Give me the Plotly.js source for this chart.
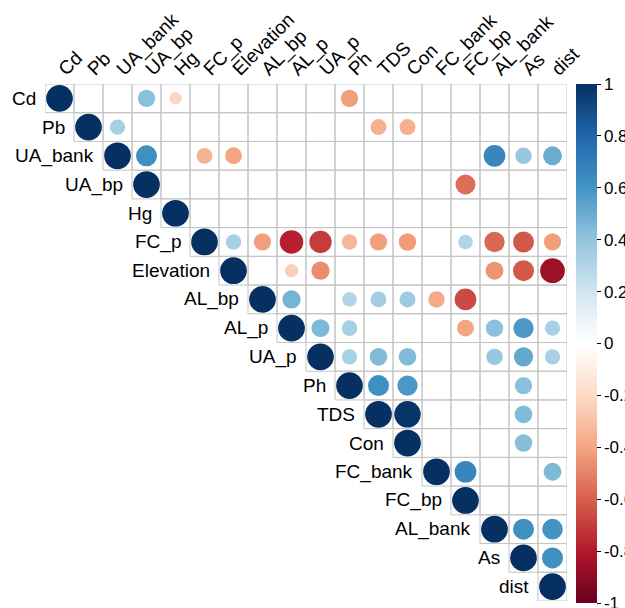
<!DOCTYPE html>
<html>
<head>
<meta charset="utf-8">
<script src="https://cdn.plot.ly/plotly-3.0.1.min.js"></script>
<style>html,body{margin:0;padding:0;background:#fff;overflow:hidden;width:625px;height:608px;}#chart{width:670px;height:618px;}</style>
</head>
<body>
<div id="chart"></div>
<script>
// Variable names (row and column order)
var variables = ["Cd","Pb","UA_bank","UA_bp","Hg","FC_p","Elevation","AL_bp","AL_p","UA_p","Ph","TDS","Con","FC_bank","FC_bp","AL_bank","As","dist"];

// Upper-triangle correlation matrix (null = blank / not shown)
var _ = null;
var corrCd        = [1,_,_,0.42,-0.22,_,_,_,_,_,-0.42,_,_,_,_,_,_,_];
var corrPb        = [_,1,0.33,_,_,_,_,_,_,_,_,-0.36,-0.36,_,_,_,_,_];
var corrUA_bank   = [_,_,1,0.62,_,-0.35,-0.40,_,_,_,_,_,_,_,_,0.66,0.38,0.50];
var corrUA_bp     = [_,_,_,1,_,_,_,_,_,_,_,_,_,_,-0.56,_,_,_];
var corrHg        = [_,_,_,_,1,_,_,_,_,_,_,_,_,_,_,_,_,_];
var corrFC_p      = [_,_,_,_,_,1,0.33,-0.42,-0.78,-0.70,-0.33,-0.42,-0.43,_,0.30,-0.58,-0.62,-0.42];
var corrElevation = [_,_,_,_,_,_,1,_,-0.25,-0.47,_,_,_,_,_,-0.45,-0.62,-0.86];
var corrAL_bp     = [_,_,_,_,_,_,_,1,0.47,_,0.30,0.35,0.36,-0.38,-0.66,_,_,_];
var corrAL_p      = [_,_,_,_,_,_,_,_,1,0.45,0.34,_,_,_,-0.40,0.42,0.58,0.33];
var corrUA_p      = [_,_,_,_,_,_,_,_,_,1,0.33,0.44,0.44,_,_,0.38,0.52,0.33];
var corrPh        = [_,_,_,_,_,_,_,_,_,_,1,0.62,0.58,_,_,_,0.42,_];
var corrTDS       = [_,_,_,_,_,_,_,_,_,_,_,1,0.98,_,_,_,0.44,_];
var corrCon       = [_,_,_,_,_,_,_,_,_,_,_,_,1,_,_,_,0.43,_];
var corrFC_bank   = [_,_,_,_,_,_,_,_,_,_,_,_,_,1,0.66,_,_,0.45];
var corrFC_bp     = [_,_,_,_,_,_,_,_,_,_,_,_,_,_,1,_,_,_];
var corrAL_bank   = [_,_,_,_,_,_,_,_,_,_,_,_,_,_,_,1,0.62,0.60];
var corrAs        = [_,_,_,_,_,_,_,_,_,_,_,_,_,_,_,_,1,0.62];
var corrDist      = [_,_,_,_,_,_,_,_,_,_,_,_,_,_,_,_,_,1];

var corrRows = [corrCd,corrPb,corrUA_bank,corrUA_bp,corrHg,corrFC_p,corrElevation,corrAL_bp,corrAL_p,corrUA_p,corrPh,corrTDS,corrCon,corrFC_bank,corrFC_bp,corrAL_bank,corrAs,corrDist];

// colour bar tick labels
var cbTickVals = [1,0.8,0.6,0.4,0.2,0,-0.2,-0.4,-0.6,-0.8,-1];
var cbTickText = ["1","0.8","0.6","0.4","0.2","0","-0.2","-0.4","-0.6","-0.8","-1"];

// corrplot RdBu palette
var rdbu = ["#67001F","#B2182B","#D6604D","#F4A582","#FDDBC7","#FFFFFF","#D1E5F0","#92C5DE","#4393C3","#2166AC","#053061"];
var colorscale = rdbu.map(function(c,i){return [i/(rdbu.length-1), c];});

var n = variables.length;
var xs=[], ys=[], vs=[], sz=[];
var maxDiam = 26.7;
for (var i=0;i<n;i++){
  for (var j=0;j<n;j++){
    var v = corrRows[i][j];
    if (v===null || v===undefined) continue;
    xs.push(j); ys.push(i); vs.push(v);
    sz.push(maxDiam*Math.sqrt(Math.abs(v)));
  }
}

// grid cells (upper triangle)
var shapes=[];
for (var r=0;r<n;r++){
  for (var c=r;c<n;c++){
    shapes.push({type:"rect",xref:"x",yref:"y",x0:c-0.5,x1:c+0.5,y0:r-0.5,y1:r+0.5,
      line:{color:"#C4C4C4",width:1},fillcolor:"rgba(0,0,0,0)",layer:"below"});
  }
}

var font = "Liberation Sans, Arial, sans-serif";
var annotations = variables.map(function(name,i){
  return {x:i-0.5,y:i,xref:"x",yref:"y",text:name,showarrow:false,xanchor:"right",yanchor:"middle",
    xshift:-7,font:{family:font,size:19,color:"#000"}};
});

var trace = {
  type:"scatter",mode:"markers",x:xs,y:ys,hoverinfo:"skip",
  marker:{color:vs,size:sz,sizemode:"diameter",colorscale:colorscale,cmin:-1,cmax:1,
    line:{width:0},opacity:1,
    showscale:true,
    colorbar:{x:1,xanchor:"left",xpad:9,thickness:21,thicknessmode:"pixels",
      lenmode:"pixels",len:519,y:1,yanchor:"top",ypad:0,
      outlinewidth:0,tickmode:"array",tickvals:cbTickVals,ticktext:cbTickText,
      ticks:"outside",ticklen:4,tickcolor:"#000",tickwidth:1,
      tickfont:{family:font,size:17,color:"#000"}}
  }
};

var layout = {
  width:670,height:618,
  margin:{l:45,r:103,t:84,b:17},
  paper_bgcolor:"#fff",plot_bgcolor:"#fff",
  showlegend:false,
  font:{family:font,color:"#000"},
  xaxis:{range:[-0.5,n-0.5],side:"top",tickmode:"array",tickvals:variables.map(function(v,i){return i;}),
    ticktext:variables,tickangle:-45,showgrid:false,zeroline:false,showline:false,ticks:"",
    tickfont:{family:font,size:19,color:"#000"},fixedrange:true},
  yaxis:{range:[n-0.5,-0.5],showticklabels:false,showgrid:false,zeroline:false,showline:false,ticks:"",fixedrange:true},
  shapes:shapes,
  annotations:annotations
};

Plotly.newPlot("chart",[trace],layout,{displayModeBar:false,staticPlot:true});
</script>
</body>
</html>
